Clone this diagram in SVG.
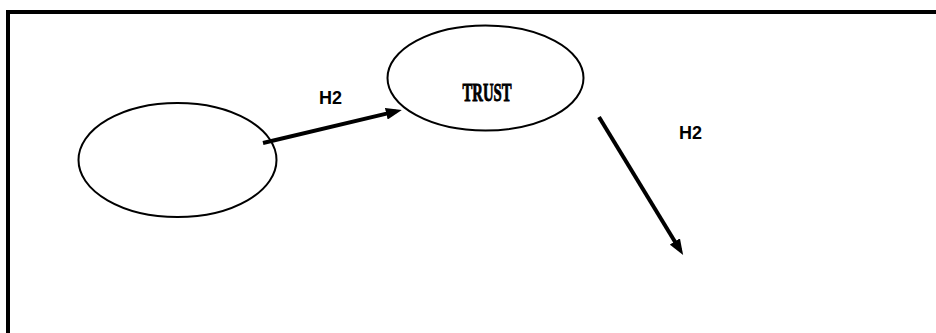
<svg xmlns="http://www.w3.org/2000/svg" width="936" height="333" viewBox="0 0 936 333">
  <style>
    .frame { fill: none; stroke: #000; stroke-width: 4; }
    .node { fill: #fff; stroke: #000; stroke-width: 2; }
    .edge { fill: none; stroke: #000; stroke-width: 4; marker-end: url(#head); }
    .hyp { font-family: "Liberation Sans", Arial, sans-serif; font-weight: bold; font-size: 18px; fill: #000; }
    .title { font-family: "Liberation Serif", "Times New Roman", serif; font-weight: bold; font-size: 25px; fill: #000; stroke: #000; stroke-width: 0.9; }
  </style>
  <defs>
    <marker id="head" viewBox="0 0 16 12" refX="10" refY="6" markerWidth="16" markerHeight="12" markerUnits="userSpaceOnUse" orient="auto">
      <path d="M0,0 L16,6 L0,12 z" fill="#000"/>
    </marker>
  </defs>

  <!-- outer frame: only the top and left edges fall inside the page -->
  <path class="frame" d="M8,400 V12 H1000"/>

  <g id="node-left">
    <ellipse class="node" cx="177.5" cy="160" rx="99" ry="57"/>
  </g>

  <g id="node-trust">
    <ellipse class="node" cx="485.5" cy="78" rx="98" ry="52.5"/>
    <text class="title" x="462.5" y="101" textLength="49" lengthAdjust="spacingAndGlyphs">TRUST</text>
  </g>

  <g id="connectors">
    <line class="edge" x1="263" y1="143" x2="396" y2="111.4"/>
    <text class="hyp" x="319" y="104">H2</text>
    <line class="edge" x1="599" y1="117" x2="680" y2="250"/>
    <text class="hyp" x="679" y="139">H2</text>
  </g>
</svg>
